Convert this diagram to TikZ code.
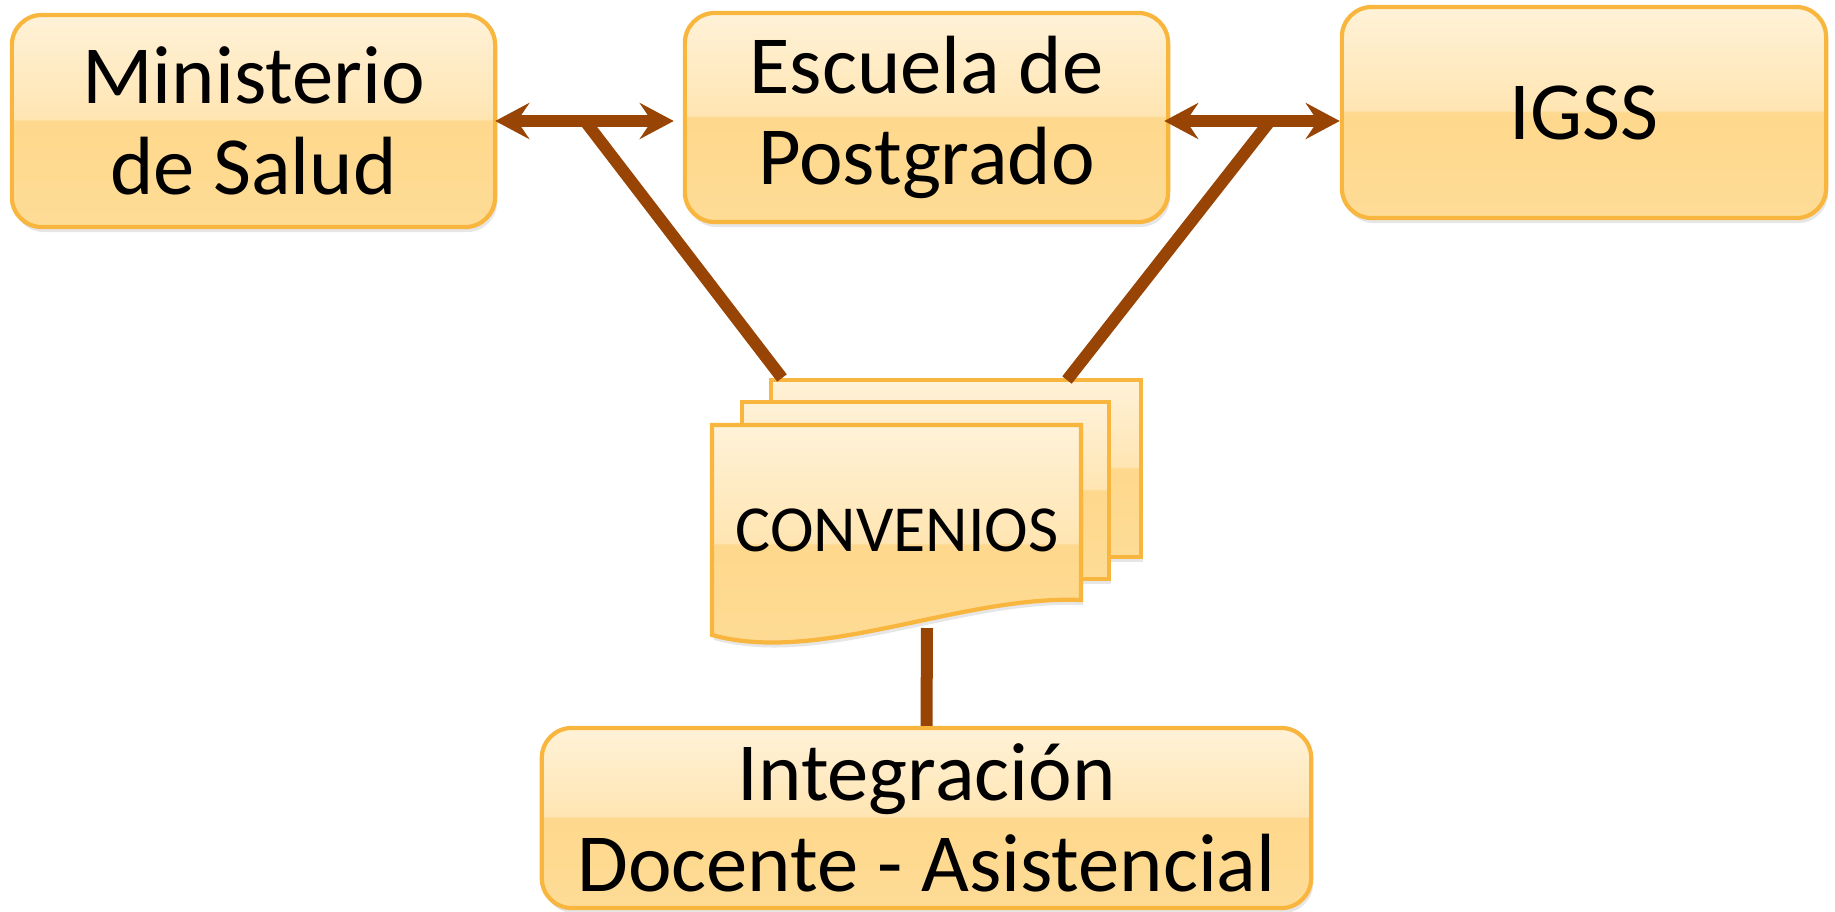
\documentclass[tikz,border=0pt]{standalone}
\usepackage{fontspec}
\setmainfont{Carlito}
\usepackage{tikz}
\usetikzlibrary{arrows.meta, shadows, positioning}

\definecolor{linkbrown}{RGB}{152,68,4}
\definecolor{boxline}{RGB}{249,182,62}
\definecolor{boxtop}{RGB}{255,242,216}
\definecolor{boxmidhi}{RGB}{255,229,178}
\definecolor{boxmidlo}{RGB}{254,216,140}
\definecolor{boxbot}{RGB}{254,220,150}

\pgfdeclareverticalshading{gloss}{100bp}{color(0bp)=(boxbot); color(25bp)=(boxbot); color(50bp)=(boxmidlo); color(50.5bp)=(boxmidhi); color(75bp)=(boxtop); color(100bp)=(boxtop)}

\begin{document}
\begin{tikzpicture}[x=0.01cm, y=-0.01cm]
\tikzstyle{entity} = [draw=boxline, line width=1.2pt, shading=gloss, rounded corners=0.3cm,
  drop shadow={opacity=0.2, shadow xshift=0.02cm, shadow yshift=-0.05cm},
  align=center, inner sep=0pt, font=\fontsize{23.5}{26}\selectfont]
\tikzstyle{page} = [draw=boxline, line width=1.2pt, shading=gloss,
  drop shadow={opacity=0.2, shadow xshift=0.02cm, shadow yshift=-0.05cm}]
\tikzstyle{arrow} = [draw=linkbrown, line width=0.12cm, {Stealth[length=0.34cm, width=0.36cm, inset=0.12cm]}-{Stealth[length=0.34cm, width=0.36cm, inset=0.12cm]}]
\tikzstyle{link} = [draw=linkbrown, line width=0.12cm]

\useasboundingbox (0,0) rectangle (1835,911);

%The three institutions on top
\node[entity, minimum width=4.83cm, minimum height=2.12cm] (min) at (253.5,121) {Ministerio\\de Salud};
\node[entity, minimum width=4.83cm, minimum height=2.09cm] (esc) at (926.5,117.5) {Escuela de\\Postgrado};
\node[entity, minimum width=4.84cm, minimum height=2.11cm] (igss) at (1584,112.5) {IGSS};

%Result at the bottom
\node[entity, minimum width=7.69cm, minimum height=1.80cm] (integ) at (926.5,818) {Integración\\Docente - Asistencial};

%Stack of agreements
\path[page] (771,380) rectangle (1141,557);
\path[page] (742,402) rectangle (1109,579);
\path[page] (712,425) -- (1081,425) -- (1081,600) .. controls (960,595) and (820,665) .. (712,635) -- cycle;
\node[font=\fontsize{18.7}{22}\selectfont, inner sep=0pt] (conv) at (897,530) {CONVENIOS};

\coordinate (jL) at (585,121);
\coordinate (jR) at (1270,121);
\coordinate (docL) at (782,378);
\coordinate (docR) at (1067,380);
\coordinate (docB) at (927,628);

%Two way links between institutions
\draw[arrow] ([xshift=-0.02cm]min.east) -- (min.east -| esc.west) [shorten >=0.09cm];
\draw[arrow] ([xshift=-0.06cm]esc.east |- min.east) -- (igss.west |- min.east);

%Links down to the agreements
\draw[link] (jL) -- (docL);
\draw[link] (jR) -- (docR);
\draw[link] (docB) -- (integ.north);

\end{tikzpicture}
\end{document}
